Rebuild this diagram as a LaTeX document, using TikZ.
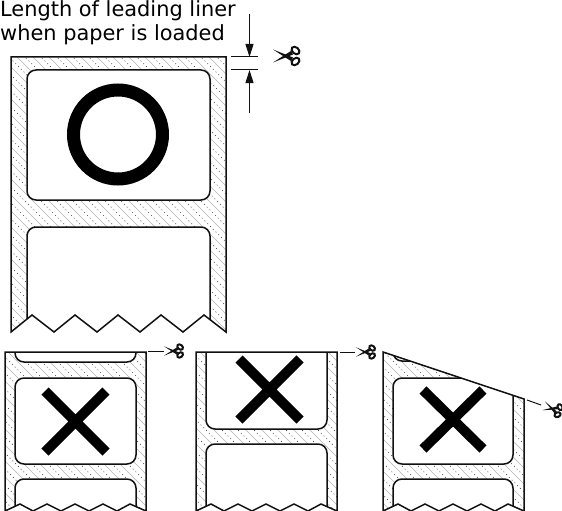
\documentclass[tikz,border=0pt]{standalone}
\usepackage{fontspec}
\setmainfont{DejaVu Sans}
\usetikzlibrary{arrows.meta}
\definecolor{linerink}{HTML}{111111}
\definecolor{linerhatch}{HTML}{B4B4B4}
\tikzset{
  edge/.style={draw=linerink, line width=1.5pt, line join=miter},
  lbl/.style={draw=linerink, fill=white, line width=1.5pt, rounded corners=9pt},
  cross/.style={line width=10pt, draw=black},
  arr/.style={-{Triangle[length=13pt,width=8pt]}, line width=1pt, color=linerink},
  tick/.style={line width=1pt, color=linerink},
  cutline/.style={line width=1pt, color=linerink},
  hatcha/.style={line width=.5pt, color=linerhatch},
  hatchb/.style={line width=.7pt, color=linerink!85, dash pattern=on .9pt off 3pt},
  scissors/.pic={
    \fill[linerink] (-14,-6.5) -- (6,1.5) -- (4,5) -- (0,2.5) -- cycle;
    \fill[linerink] (-14,6.5) -- (6,-1.5) -- (4,-5) -- (0,-2.5) -- cycle;
    \draw[line width=2pt, color=linerink, rotate around={-40:(8.5,-5.5)}] (8.5,-5.5) ellipse (4.4 and 3.2);
    \draw[line width=2pt, color=linerink, rotate around={40:(8.5,5.5)}] (8.5,5.5) ellipse (4.4 and 3.2);
  },
}
% diagonal hatching of the liner, inside the given closed path
\newcommand{\linerfill}[1]{
  \fill[white] #1;
  \begin{scope}
    \clip #1;
    \foreach \k in {-520,-504,...,570} {
      \draw[hatcha] (\k,0) -- (\k+520,520);
      \draw[hatchb] (\k+8,0) -- (\k+528,520);
    }
  \end{scope}
}
\begin{document}
\begin{tikzpicture}[x=1pt,y=-1pt]
  \useasboundingbox (0,0) rectangle (562,511);
  % top sheet, loaded correctly
  \def\sheetmain{(11,57) -- (226,57) -- (226,332) -- (204,315) -- (183,332) -- (161,315) -- (140,332) -- (118,315) -- (97,332) -- (75,315) -- (54,332) -- (32,315) -- (11,332) -- cycle}
  \linerfill{\sheetmain}
  \draw[lbl] (27,70) rectangle (210,200);
  \begin{scope}
    \clip \sheetmain;
    \draw[lbl] (27,350) -- (27,227) -- (210,227) -- (210,350);
  \end{scope}
  \draw[edge] \sheetmain;
  \node[circle, draw=black, line width=13pt, minimum size=89pt, inner sep=0pt] (okmark) at (118,134.5) {};
  % dimension of the leading liner
  \node[anchor=north west, align=left, inner sep=0pt, font=\fontsize{20.9}{24.5}\selectfont] (title) at (0,0) {Length of leading liner\\when paper is loaded};
  \coordinate (gaptop) at (249.5,57);
  \coordinate (gapbot) at (249.5,70);
  \draw[tick] (231,57) -- (258,57);
  \draw[tick] (231,70) -- (258,70);
  \draw[arr] (249.5,14) -- (gaptop);
  \draw[arr] (249.5,113) -- (gapbot);
  \pic at (287,56) {scissors};
  % cut too far down
  \def\sheetone{(5,352) -- (146,352) -- (146,511) -- (130,504) -- (117,511) -- (103,504) -- (89,511) -- (75,504) -- (61,511) -- (47,504) -- (33,511) -- (20,504) -- (5,511) -- cycle}
  \linerfill{\sheetone}
  \begin{scope}
    \clip \sheetone;
    \draw[lbl] (15,330) rectangle (136,362);
    \draw[lbl] (15,378) rectangle (136,464);
    \draw[lbl] (15,530) -- (15,479) -- (136,479) -- (136,530);
  \end{scope}
  \draw[edge] \sheetone;
  \draw[cross] (45,391) -- (106,452) (106,391) -- (45,452);
  \coordinate (cutA) at (148,351);
  \draw[cutline] (cutA) -- +(16,0);
  \pic[scale=.72] at (174,351) {scissors};
  % cut through the label
  \def\sheettwo{(196,352) -- (337,352) -- (337,511) -- (321,504) -- (308,511) -- (294,504) -- (280,511) -- (266,504) -- (252,511) -- (238,504) -- (224,511) -- (211,504) -- (196,511) -- cycle}
  \linerfill{\sheettwo}
  \begin{scope}
    \clip \sheettwo;
    \draw[lbl] (206,330) rectangle (327,429);
    \draw[lbl] (206,530) -- (206,444) -- (327,444) -- (327,530);
  \end{scope}
  \draw[edge] \sheettwo;
  \draw[cross] (239,359) -- (300,420) (300,359) -- (239,420);
  \coordinate (cutB) at (340,352);
  \draw[cutline] (cutB) -- +(15,0);
  \pic[scale=.72] at (366,352) {scissors};
  % skewed cut
  \def\sheetthree{(383,352) -- (524,399) -- (524,511) -- (508,504) -- (495,511) -- (481,504) -- (467,511) -- (453,504) -- (439,511) -- (425,504) -- (411,511) -- (398,504) -- (383,511) -- cycle}
  \linerfill{\sheetthree}
  \begin{scope}
    \clip \sheetthree;
    \draw[lbl] (393,330) rectangle (513,361);
    \draw[lbl] (393,378) rectangle (513,464);
    \draw[lbl] (393,530) -- (393,479) -- (513,479) -- (513,530);
  \end{scope}
  \draw[edge] \sheetthree;
  \draw[cross] (423,390) -- (483,449) (483,390) -- (423,449);
  \coordinate (cutC) at (527,400);
  \draw[cutline] (cutC) -- (541,405);
  \pic[scale=.72, rotate=-18.5] at (553,409) {scissors};
\end{tikzpicture}
\end{document}
